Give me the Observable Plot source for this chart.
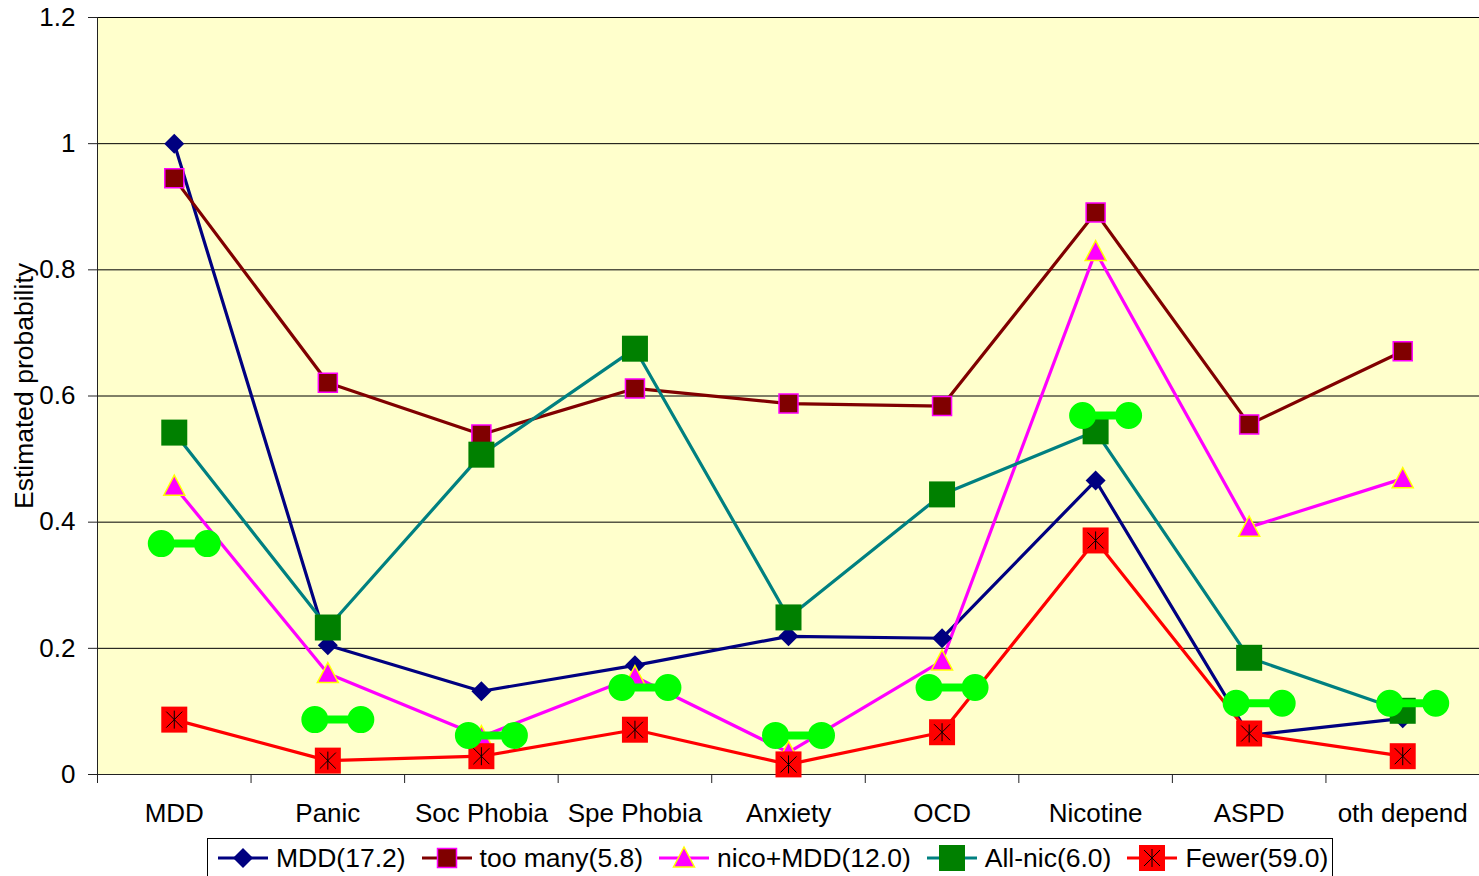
<!DOCTYPE html>
<html>
<head>
<meta charset="utf-8">
<script src="https://cdn.jsdelivr.net/npm/d3@7"></script>
<script src="https://cdn.jsdelivr.net/npm/@observablehq/plot@0.6"></script>
<style>
  html, body { margin: 0; padding: 0; background: white; }
  body { font-family: "Liberation Sans", Arial, sans-serif; position: relative; width: 1479px; height: 876px; overflow: hidden; }
  #chart { position: absolute; left: 0; top: 0; }
  #legend { position: absolute; left: 207px; top: 838px; width: 1104px; border: 1px solid black; padding: 4px 10px 12px 10px;
            display: flex; align-items: center; font-size: 26.5px; line-height: 30px; color: black; background: white; white-space: nowrap; }
  .item { display: flex; align-items: center; margin-right: 16px; }
  .item:last-child { margin-right: 0; }
  .item svg { margin-right: 8px; }
</style>
</head>
<body>
<div id="chart"></div>
<div id="legend"></div>
<script>
// ---- data ----
const categories = ["MDD", "Panic", "Soc Phobia", "Spe Phobia", "Anxiety", "OCD", "Nicotine", "ASPD", "oth depend"];
const mdd      = [1.000, 0.205, 0.132, 0.173, 0.219, 0.216, 0.466, 0.062, 0.089];
const tooMany  = [0.945, 0.621, 0.539, 0.612, 0.588, 0.584, 0.891, 0.555, 0.671];
const nicoMdd  = [0.457, 0.160, 0.060, 0.155, 0.035, 0.180, 0.829, 0.392, 0.469];
const allNic   = [0.542, 0.233, 0.507, 0.675, 0.249, 0.444, 0.544, 0.185, 0.101];
const fewer    = [0.087, 0.022, 0.029, 0.071, 0.016, 0.067, 0.371, 0.065, 0.029];
const marker   = [0.366, 0.087, 0.062, 0.138, 0.062, 0.138, 0.569, 0.113, 0.113];
const seriesNames = ["MDD(17.2)", "too many(5.8)", "nico+MDD(12.0)", "All-nic(6.0)", "Fewer(59.0)"];
const yTicks = [0, 0.2, 0.4, 0.6, 0.8, 1.0, 1.2];
const yTickLabels = ["0", "0.2", "0.4", "0.6", "0.8", "1", "1.2"];
const yLabel = "Estimated probability";

// ---- symbols ----
const diamondSym = {draw(c) { c.moveTo(0, -10); c.lineTo(10, 0); c.lineTo(0, 10); c.lineTo(-10, 0); c.closePath(); }};
const smallSquare = {draw(c) { c.rect(-9.5, -9.5, 19, 19); }};
const triSym = {draw(c) { c.moveTo(0, -11); c.lineTo(10.5, 9); c.lineTo(-10.5, 9); c.closePath(); }};
const bigSquare = {draw(c) { c.rect(-13, -13, 26, 26); }};
const asterSym = {draw(c) {
  c.moveTo(0, -9); c.lineTo(0, 9);
  c.moveTo(-8, -8); c.lineTo(8, 8);
  c.moveTo(-8, 8); c.lineTo(8, -8);
}};
const dumbbell = {draw(c) {
  const R = 13.5, off = 23, h = 4;
  c.moveTo(-off + R, 0); c.arc(-off, 0, R, 0, 2 * Math.PI);
  c.moveTo(off + R, 0); c.arc(off, 0, R, 0, 2 * Math.PI);
  c.rect(-off, -h, 2 * off, 2 * h);
}};

const toRows = (vals) => vals.map((v, i) => ({i, v}));
const S = [mdd, tooMany, nicoMdd, allNic, fewer].map(toRows);
const M = toRows(marker);

const lineColors = ["#000080", "#800000", "#FF00FF", "#008080", "#FF0000"];

const chart = Plot.plot({
  width: 1479,
  height: 838,
  marginTop: 17,
  marginBottom: 64,
  marginLeft: 97,
  marginRight: 0,
  x: {domain: [-0.5, 8.5]},
  y: {domain: [0, 1.2]},
  style: {fontFamily: "'Liberation Sans', Arial, sans-serif", fontSize: "26px", color: "black", background: "transparent", overflow: "visible"},
  marks: [
    Plot.frame({fill: "#FFFFCC", stroke: "none"}),
    Plot.gridY({ticks: yTicks.slice(1), stroke: "black", strokeOpacity: 1, strokeWidth: 1}),
    Plot.ruleX([-0.5], {stroke: "#222", strokeWidth: 1}),
    Plot.ruleY([0], {stroke: "#222", strokeWidth: 1}),
    Plot.axisY({ticks: yTicks, tickSize: 9, tickPadding: 13, tickFormat: (d, i) => yTickLabels[i], label: null, stroke: "#222"}),
    Plot.axisX({ticks: d3.range(-0.5, 9, 1), tickSize: 9, tickFormat: () => "", label: null, stroke: "#222"}),
    Plot.axisX({ticks: d3.range(0, 9), tickSize: 0, tickPadding: 29, tickFormat: (d) => categories[d], label: null}),
    Plot.text([yLabel], {frameAnchor: "left", text: d => d, rotate: -90, textAnchor: "middle", dx: -73, dy: -10, fontSize: 26.5, fill: "black"}),
    // lines
    ...S.map((rows, k) => Plot.line(rows, {x: "i", y: "v", stroke: lineColors[k], strokeWidth: 3.2})),
    // markers
    Plot.dot(S[0], {x: "i", y: "v", symbol: diamondSym, fill: "#000080", stroke: "none"}),
    Plot.dot(S[1], {x: "i", y: "v", symbol: smallSquare, fill: "#800000", stroke: "#FF00FF", strokeWidth: 1.5}),
    Plot.dot(S[2], {x: "i", y: "v", symbol: triSym, fill: "#FF00FF", stroke: "#FFFF00", strokeWidth: 1.5}),
    Plot.dot(S[3], {x: "i", y: "v", symbol: bigSquare, fill: "#008000", stroke: "none"}),
    Plot.dot(S[4], {x: "i", y: "v", symbol: bigSquare, fill: "#FF0000", stroke: "none"}),
    Plot.dot(S[4], {x: "i", y: "v", symbol: asterSym, fill: "none", stroke: "black", strokeWidth: 1}),
    // overlay markers
    Plot.dot(M, {x: "i", y: "v", symbol: dumbbell, fill: "#00FF00", stroke: "none", dx: 10})
  ]
});
document.getElementById("chart").appendChild(chart);

// ---- legend ----
const legendMarkers = [
  `<path d="M25,5L35,15L25,25L15,15Z" fill="#000080"/>`,
  `<rect x="15.5" y="5.5" width="19" height="19" fill="#800000" stroke="#FF00FF" stroke-width="1.5"/>`,
  `<path d="M25,4L35.5,24L14.5,24Z" fill="#FF00FF" stroke="#FFFF00" stroke-width="1.5"/>`,
  `<rect x="12" y="2" width="26" height="26" fill="#008000"/>`,
  `<rect x="12" y="2" width="26" height="26" fill="#FF0000"/><path d="M25,6V24M17,7L33,23M17,23L33,7" stroke="black" stroke-width="1"/>`
];
const legend = document.getElementById("legend");
seriesNames.forEach((name, k) => {
  const item = document.createElement("div");
  item.className = "item";
  item.innerHTML = `<svg width="50" height="30" viewBox="0 0 50 30"><line x1="0" x2="50" y1="15" y2="15" stroke="${lineColors[k]}" stroke-width="3"/>${legendMarkers[k]}</svg><span>${name}</span>`;
  legend.appendChild(item);
});
</script>
</body>
</html>
